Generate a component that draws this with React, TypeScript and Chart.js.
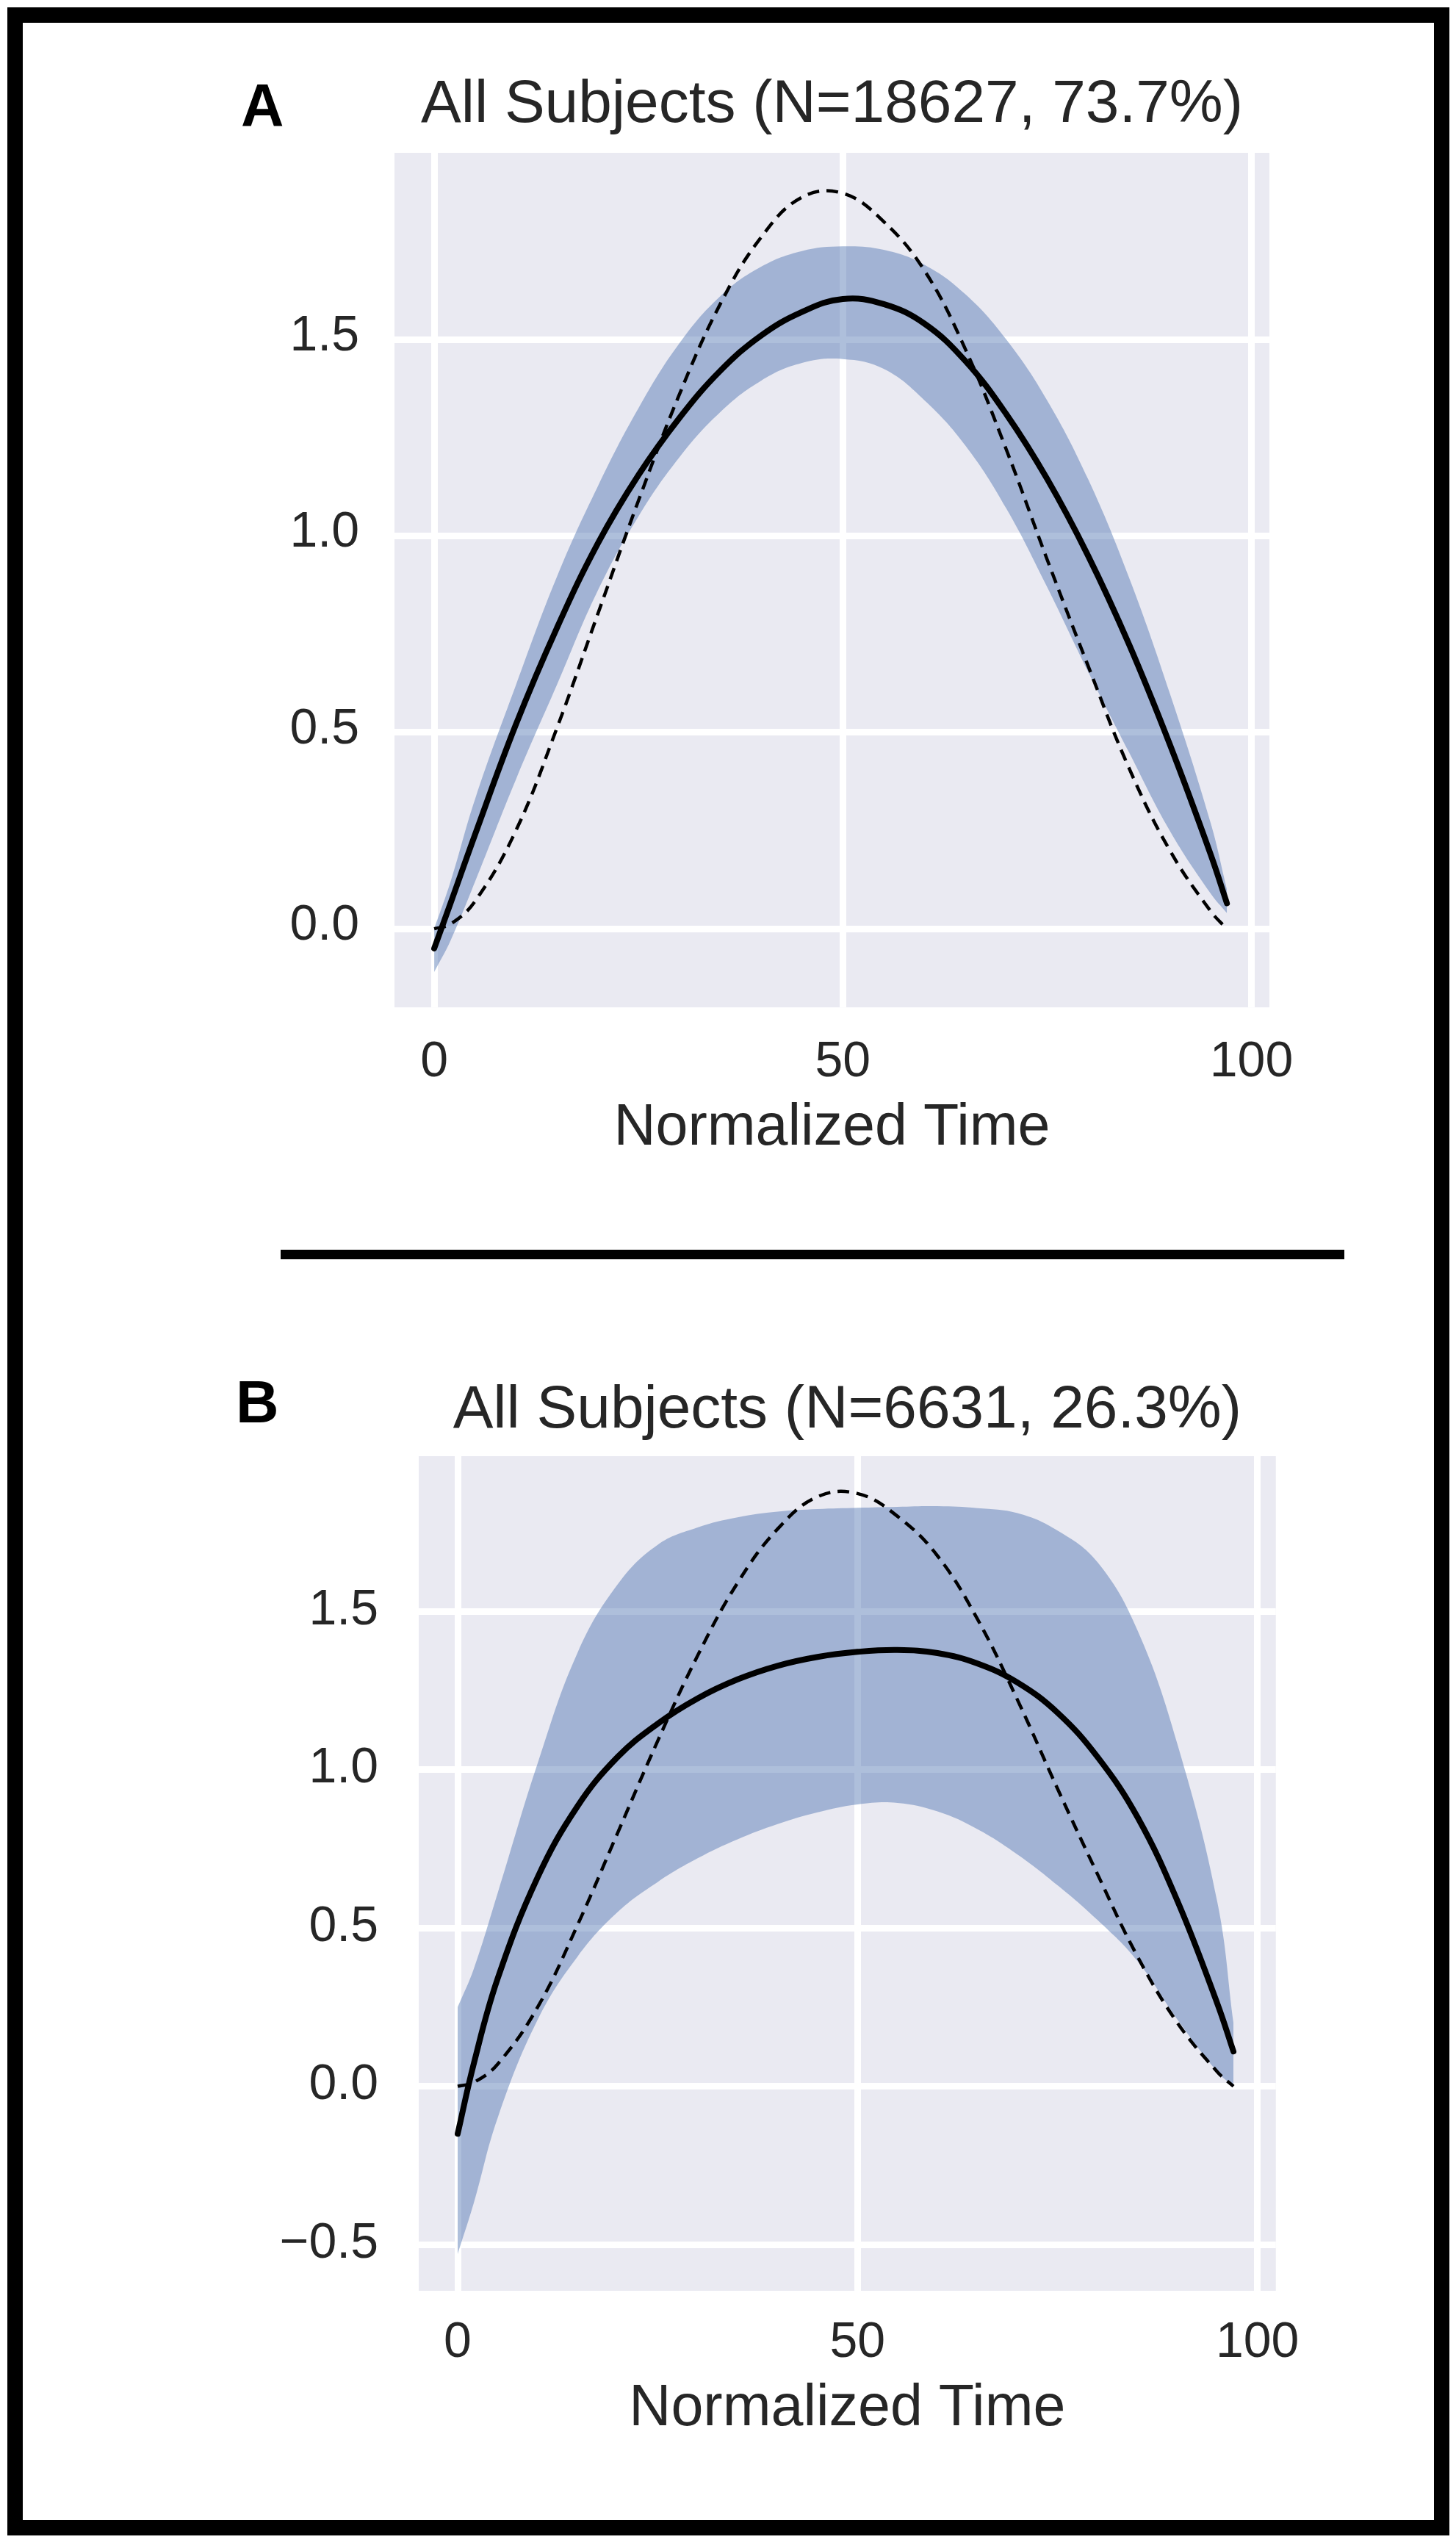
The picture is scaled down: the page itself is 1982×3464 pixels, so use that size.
import { useEffect, useRef } from 'react';
import Chart from 'chart.js/auto';

// normalized time samples shared by every series
const TIME = [0, 2, 5, 10, 15, 20, 25, 30, 35, 40, 45, 50, 55, 60, 65, 70, 75, 80, 85, 90, 95, 97];

// dashed reference profile (same in both panels)
const REFERENCE = [0, 0.012, 0.07, 0.25, 0.51, 0.8, 1.09, 1.36, 1.59, 1.76, 1.862, 1.872, 1.8, 1.675, 1.475, 1.22, 0.94, 0.67, 0.41, 0.2, 0.045, 0];

// panel A
const MEAN_A = [-0.05, 0.065, 0.24, 0.52, 0.765, 0.98, 1.155, 1.3, 1.42, 1.51, 1.57, 1.603, 1.59, 1.54, 1.445, 1.31, 1.145, 0.95, 0.725, 0.47, 0.19, 0.065];
const UPPER_A = [0, 0.12, 0.33, 0.62, 0.895, 1.125, 1.325, 1.49, 1.61, 1.685, 1.725, 1.737, 1.728, 1.69, 1.615, 1.5, 1.345, 1.145, 0.895, 0.6, 0.27, 0.1];
const LOWER_A = [-0.11, -0.03, 0.12, 0.38, 0.62, 0.86, 1.05, 1.2, 1.315, 1.395, 1.44, 1.45, 1.425, 1.345, 1.23, 1.07, 0.87, 0.655, 0.45, 0.25, 0.09, 0.04];

// panel B
const MEAN_B = [-0.15, 0.07, 0.34, 0.66, 0.885, 1.04, 1.145, 1.225, 1.285, 1.328, 1.356, 1.372, 1.378, 1.368, 1.335, 1.275, 1.18, 1.04, 0.85, 0.585, 0.26, 0.11];
const UPPER_B = [0.25, 0.37, 0.61, 1.02, 1.37, 1.585, 1.71, 1.765, 1.797, 1.815, 1.823, 1.827, 1.83, 1.832, 1.826, 1.81, 1.755, 1.655, 1.44, 1.08, 0.58, 0.2];
const LOWER_B = [-0.53, -0.37, -0.1, 0.21, 0.41, 0.55, 0.645, 0.72, 0.78, 0.828, 0.865, 0.89, 0.895, 0.868, 0.812, 0.732, 0.635, 0.525, 0.395, 0.21, 0.045, 0];

const X_TICKS = [0, 50, 100];
const Y_TICKS_A = [0, 0.5, 1, 1.5];
const Y_TICKS_B = [-0.5, 0, 0.5, 1, 1.5];

const TITLE_A = 'All Subjects (N=18627, 73.7%)';
const TITLE_B = 'All Subjects (N=6631, 26.3%)';
const X_LABEL = 'Normalized Time';

const FONT = 'Liberation Sans';
const TEXT = '#262626';
const BAND = 'rgba(76, 114, 176, 0.45)';

Chart.defaults.font.family = FONT;

const plotBackground = {
  id: 'plotBackground',
  beforeDraw(chart: Chart) {
    const { ctx, chartArea } = chart;
    if (!chartArea) return;
    ctx.save();
    ctx.fillStyle = '#EAEAF2';
    ctx.fillRect(chartArea.left, chartArea.top, chartArea.right - chartArea.left, chartArea.bottom - chartArea.top);
    ctx.restore();
  },
};

interface PanelProps {
  title: string;
  mean: number[];
  upper: number[];
  lower: number[];
  yTicks: number[];
  yMin: number;
  yMax: number;
  xMin: number;
  xMax: number;
  box: { left: number; top: number; width: number; height: number };
  padRight: number;
  padBottom: number;
  titlePad: { top: number; bottom: number };
  yAxisWidth: number;
  yTickPad: number;
  yLabelOffset: number;
  xAxisHeight: number;
  xTickPad: number;
}

function fmtY(v: number) {
  return (v < 0 ? '\u2212' : '') + Math.abs(v).toFixed(1);
}

function Panel(p: PanelProps) {
  const canvasRef = useRef<HTMLCanvasElement>(null);

  useEffect(() => {
    if (!canvasRef.current) return;
    const pts = (ys: number[]) => TIME.map((x, i) => ({ x, y: ys[i] }));

    const chart = new Chart(canvasRef.current, {
      type: 'line',
      data: {
        datasets: [
          {
            label: 'Reference',
            data: pts(REFERENCE),
            borderColor: '#000',
            borderWidth: 4.5,
            borderDash: [16, 10],
            pointRadius: 0,
            fill: false,
          },
          {
            label: 'Mean',
            data: pts(p.mean),
            borderColor: '#000',
            borderWidth: 8,
            borderCapStyle: 'round',
            pointRadius: 0,
            fill: false,
          },
          {
            label: 'Upper',
            data: pts(p.upper),
            borderColor: 'rgba(0,0,0,0)',
            borderWidth: 0,
            backgroundColor: BAND,
            pointRadius: 0,
            fill: '+1',
          },
          {
            label: 'Lower',
            data: pts(p.lower),
            borderColor: 'rgba(0,0,0,0)',
            borderWidth: 0,
            pointRadius: 0,
            fill: false,
          },
        ],
      },
      options: {
        responsive: true,
        maintainAspectRatio: false,
        animation: false,
        events: [],
        layout: { padding: { top: 0, left: 0, right: p.padRight, bottom: p.padBottom } },
        elements: { line: { tension: 0.4 } },
        scales: {
          x: {
            type: 'linear',
            min: p.xMin,
            max: p.xMax,
            afterBuildTicks: (scale) => {
              scale.ticks = X_TICKS.map((value) => ({ value }));
            },
            afterFit: (scale) => {
              scale.height = p.xAxisHeight;
            },
            grid: { color: '#ffffff', lineWidth: 9, drawTicks: false },
            border: { display: false },
            ticks: {
              color: TEXT,
              font: { size: 68 },
              padding: p.xTickPad,
              autoSkip: false,
              maxRotation: 0,
              callback: (v) => String(v),
            },
            title: {
              display: true,
              text: X_LABEL,
              color: TEXT,
              font: { size: 79 },
              padding: { top: 0, bottom: 0 },
            },
          },
          y: {
            type: 'linear',
            min: p.yMin,
            max: p.yMax,
            afterBuildTicks: (scale) => {
              scale.ticks = p.yTicks.map((value) => ({ value }));
            },
            afterFit: (scale) => {
              scale.width = p.yAxisWidth;
            },
            grid: { color: '#ffffff', lineWidth: 9, drawTicks: false },
            border: { display: false },
            ticks: {
              color: TEXT,
              font: { size: 68 },
              padding: p.yTickPad,
              labelOffset: p.yLabelOffset,
              callback: (v) => fmtY(Number(v)),
            },
          },
        },
        plugins: {
          legend: { display: false },
          tooltip: { enabled: false },
          title: {
            display: true,
            text: p.title,
            color: TEXT,
            fullSize: false,
            font: { size: 82, weight: 'normal' },
            padding: p.titlePad,
          },
        },
      },
      plugins: [plotBackground],
    });

    return () => chart.destroy();
  }, [p]);

  return (
    <div style={{ position: 'absolute', ...p.box }}>
      <canvas ref={canvasRef} />
    </div>
  );
}

const PANEL_A: PanelProps = {
  title: TITLE_A,
  mean: MEAN_A,
  upper: UPPER_A,
  lower: LOWER_A,
  yTicks: Y_TICKS_A,
  yMin: -0.2,
  yMax: 1.975,
  xMin: -4.86,
  xMax: 102.2,
  box: { left: 300, top: 40, width: 1500, height: 1580 },
  padRight: 72,
  padBottom: 36,
  titlePad: { top: 54, bottom: 15.6 },
  yAxisWidth: 237,
  yTickPad: 48,
  yLabelOffset: -4,
  xAxisHeight: 212.9,
  xTickPad: 34.2,
};

const PANEL_B: PanelProps = {
  title: TITLE_B,
  mean: MEAN_B,
  upper: UPPER_B,
  lower: LOWER_B,
  yTicks: Y_TICKS_B,
  yMin: -0.646,
  yMax: 1.99,
  xMin: -4.87,
  xMax: 102.3,
  box: { left: 330, top: 1760, width: 1470, height: 1580 },
  padRight: 62,
  padBottom: 13.6,
  titlePad: { top: 110.8, bottom: 12.8 },
  yAxisWidth: 240,
  yTickPad: 55,
  yLabelOffset: -1,
  xAxisHeight: 208.4,
  xTickPad: 30.2,
};

const letterStyle = {
  position: 'absolute' as const,
  fontFamily: FONT,
  fontWeight: 'bold' as const,
  fontSize: 81,
  lineHeight: 1,
  color: '#000',
};

export default function App() {
  useEffect(() => {
    document.body.style.margin = '0';
  }, []);

  return (
    <div style={{ position: 'relative', width: 1982, height: 3464, background: '#fff', overflow: 'hidden' }}>
      <div
        style={{
          position: 'absolute',
          left: 10,
          top: 10,
          width: 1963,
          height: 3441,
          border: '21px solid #000',
          boxSizing: 'border-box',
        }}
      />
      <div style={{ position: 'absolute', left: 382, top: 1701, width: 1448, height: 13, background: '#000' }} />
      <div style={{ ...letterStyle, left: 328, top: 103 }}>A</div>
      <div style={{ ...letterStyle, left: 321, top: 1868 }}>B</div>
      <Panel {...PANEL_A} />
      <Panel {...PANEL_B} />
    </div>
  );
}
